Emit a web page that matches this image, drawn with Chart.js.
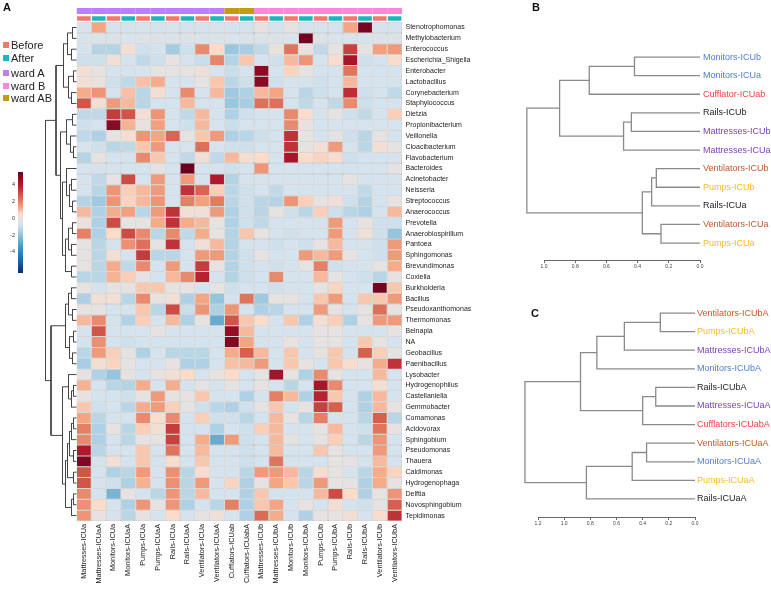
<!DOCTYPE html>
<html>
<head>
<meta charset="utf-8">
<script src="https://cdn.jsdelivr.net/npm/chart.js@4.4.1/dist/chart.umd.min.js"></script>
<style>
body { margin: 0; background: #fff; font-family: "Liberation Sans", Arial, sans-serif; }
#wrap { position: relative; width: 771px; height: 590px; overflow: hidden; background: #fff; }
canvas { position: absolute; }
.panel { position: absolute; font-weight: bold; font-size: 11px; color: #111; }
.sw { position: absolute; left: 3px; width: 6px; height: 6px; }
.lg { position: absolute; left: 11px; font-size: 11px; line-height: 12px; color: #222; }
</style>
</head>
<body>
<div id="wrap">
  <canvas id="heat" width="520" height="590" style="left:0;top:0"></canvas>
  <canvas id="rowTree" width="77" height="590" style="left:0;top:0"></canvas>
  <canvas id="scaleBar" width="24" height="125" style="left:0;top:160px"></canvas>
  <canvas id="treeB" width="251" height="280" style="left:520px;top:0"></canvas>
  <canvas id="treeC" width="251" height="310" style="left:520px;top:280px"></canvas>
  <div class="panel" style="left:3px;top:1px">A</div>
  <div class="panel" style="left:532px;top:1px">B</div>
  <div class="panel" style="left:531px;top:307px">C</div>
  <div id="legend"></div>
</div>
<script>
// colonne della heatmap
const columns = ['Mattresses-ICUa', 'Mattresses-ICUaA', 'Monitors-ICUa', 'Monitors-ICUaA', 'Pumps-ICUa', 'Pumps-ICUaA',
  'Rails-ICUa', 'Rails-ICUaA', 'Ventilators-ICUa', 'Ventilators-ICUaA', 'Cufflators-ICUab', 'Cufflators-ICUabA',
  'Mattresses-ICUb', 'Mattresses-ICUbA', 'Monitors-ICUb', 'Monitors-ICUbA', 'Pumps-ICUb', 'Pumps-ICUbA',
  'Rails-ICUb', 'Rails-ICUbA', 'Ventilators-ICUb', 'Ventilators-ICUbA'];
const period = ['Before', 'After', 'Before', 'After', 'Before', 'After', 'Before', 'After', 'Before', 'After', 'Before',
  'After', 'Before', 'After', 'Before', 'After', 'Before', 'After', 'Before', 'After', 'Before', 'After'];
const ward = ['A', 'A', 'A', 'A', 'A', 'A', 'A', 'A', 'A', 'A', 'AB', 'AB', 'B', 'B', 'B', 'B', 'B', 'B', 'B', 'B', 'B', 'B'];

const rowNames = ['Stenotrophomonas', 'Methylobacterium', 'Enterococcus', 'Escherichia_Shigella', 'Enterobacter',
  'Lactobacillus', 'Corynebacterium', 'Staphylococcus', 'Dietzia', 'Propionibacterium', 'Veillonella',
  'Cloacibacterium', 'Flavobacterium', 'Bacteroides', 'Acinetobacter', 'Neisseria', 'Streptococcus',
  'Anaerococcus', 'Prevotella', 'Anaerobiospirillum', 'Pantoea', 'Sphingomonas', 'Brevundimonas', 'Coxiella',
  'Burkholderia', 'Bacillus', 'Pseudoxanthomonas', 'Thermomonas', 'Belnapia', 'NA', 'Geobacillus',
  'Paenibacillus', 'Lysobacter', 'Hydrogenophilus', 'Castellaniella', 'Gemmobacter', 'Comamonas', 'Acidovorax',
  'Sphingobium', 'Pseudomonas', 'Thauera', 'Caldimonas', 'Hydrogenophaga', 'Delftia', 'Novosphingobium',
  'Tepidimonas'];

// valori (z-score), una riga per genere
const values = [
  [-0.6, 1.3, -0.7, -0.7, -0.6, -0.7, -0.6, -0.8, -0.7, -0.6, -0.8, -0.8, 0, -0.8, 0, -0.8, -0.7, -0.8, 1.3, 5.2, -0.8, -0.8],
  [-0.6, -0.5, -0.5, -0.6, -0.5, -0.5, -0.5, -0.5, -0.6, -0.5, -0.6, -0.5, -0.5, -0.5, -0.6, 5.3, -0.5, -0.6, -0.6, -0.6, -0.5, -0.5],
  [-0.8, -1.4, -1.4, 0.3, -0.9, -0.8, -1.7, -0.9, 1.8, 0.5, -1.9, -1.6, -1.2, 0.1, 2.2, 0, -1.2, 0, 3.2, 0, 1.4, 1.5],
  [-0.9, -0.9, 0.2, -0.8, -1.2, -0.9, 0, -0.8, -1.0, 1.9, -1.4, 0.8, -0.8, -0.9, 1.0, 1.6, -0.8, 0.4, 4.2, -0.9, -0.8, 0.4],
  [0.3, 0, -0.8, -0.8, -0.8, 0, 0, 0, 0.2, -0.8, -1.0, -0.8, 4.8, -0.8, 0.6, 0, -0.8, -0.8, 2.2, -0.8, -0.8, -0.8],
  [0.3, 0.1, -0.9, -1.2, 0.9, 1.2, -0.8, -0.8, 0, 0.8, -1.3, -0.9, 4.8, -0.9, -0.8, -0.8, -0.9, -0.8, 1.0, -0.8, -0.8, -0.8],
  [1.2, 1.6, -0.8, 0.9, -1.3, 0.3, -0.8, 1.8, -0.8, 1.0, -1.8, -1.5, 1.0, 1.3, -0.8, -1.3, -0.9, -0.8, 3.6, -0.9, -0.8, -1.2],
  [2.8, 0.3, 1.5, 1.0, -1.3, -0.8, -0.8, 1.0, -0.8, -0.8, -1.9, -1.6, 2.3, 2.3, -0.8, -1.2, -0.8, -1.2, 1.8, -0.9, -0.8, -0.8],
  [-1.2, -1.2, 3.3, 2.8, 0.3, 1.6, -0.8, -1.2, 1.0, -0.8, -1.5, -0.9, -0.8, -0.8, 1.8, 0.4, -0.8, 0, -0.9, -1.2, -0.8, 0.7],
  [-0.9, -0.8, 4.8, 1.1, 0, 1.4, -0.8, -0.9, 1.0, -0.8, -1.0, -0.8, -0.8, -0.8, 1.8, 0, -0.8, -0.8, -0.8, -0.8, -0.8, -0.8],
  [-1.2, -1.5, 0, 0.3, 1.6, 1.3, 2.5, 0, 0.8, 1.5, -1.5, -1.3, -0.9, -0.8, 3.5, 0, -0.8, 0, -0.9, -1.3, 0, -0.8],
  [-0.8, -0.9, -1.3, -1.2, 0.8, 1.5, -0.8, -0.8, 2.3, -0.8, -0.9, -0.9, -0.8, -0.8, 3.5, 0, 0.3, 1.5, -0.8, -1.3, 0.3, 0],
  [-1.4, 0, -0.8, -0.8, 1.8, 0.8, -0.8, -1.2, 0.2, -1.2, 1.0, 0.3, 0.5, -0.8, 4.2, 0.5, 0.6, 0.4, -0.9, -0.8, -0.8, -0.8],
  [-0.8, -0.8, -0.8, -0.8, -0.8, 0, -0.8, 5.5, -0.8, -0.8, -0.9, -0.8, 1.6, -0.8, -0.8, -0.8, -0.8, -0.8, -0.8, -0.8, -0.8, 0],
  [-0.8, -1.2, 0, 3.0, -0.8, 1.5, -0.8, 1.5, -0.8, 4.0, -1.4, -0.8, -0.8, -0.8, -0.8, -0.8, -0.8, -0.8, 0, -0.8, -0.8, -0.8],
  [-0.8, -1.3, 1.6, 0.7, 1.0, 1.5, -0.8, 3.5, 2.5, 0.7, -1.3, -0.9, -0.8, -1.2, -0.8, -0.8, -0.8, -0.8, -0.8, -1.2, -0.8, -0.8],
  [-1.4, -1.8, 1.6, 0.6, 1.0, 1.6, -0.8, 2.0, 1.4, 2.1, -1.3, -0.9, -1.3, -1.4, 1.6, 0.7, 0, 0.2, -0.9, -1.4, -0.8, 0],
  [1.0, -1.5, 1.2, 1.4, -1.3, 1.5, 3.5, 0.3, 0.2, 1.5, -1.5, -0.9, -1.3, 0, -0.9, -1.3, 0.7, -0.9, -1.3, -1.5, -0.8, 1.0],
  [0.1, -1.5, 3.0, 0, 0, 1.2, 3.5, 1.2, 1.0, 0, -1.5, -0.9, -1.2, -0.8, -0.8, -0.8, -0.8, 1.5, -0.8, 0, -0.9, -0.9],
  [2.0, -1.5, 0.5, 3.0, 1.8, -1.3, 1.8, -1.2, 1.2, 0, -1.4, 0.8, 0, -0.8, -0.9, -0.8, -0.8, 1.5, -0.8, 0.2, -0.9, -2.0],
  [0, -1.3, -0.8, 1.7, 2.3, 0, 3.5, -0.8, 0.2, 1.0, -1.4, -0.8, -0.8, -0.9, -0.8, -0.9, 0, 1.0, -0.8, -0.8, -0.9, 1.5],
  [0, -1.3, 0.3, -0.8, 3.3, -1.3, -1.3, -0.8, 1.5, 1.5, -1.4, -0.9, 0, -0.8, -0.8, 1.5, 1.0, 1.5, 0, -0.8, -0.9, 1.5],
  [0, -1.3, 1.2, -1.2, 1.8, -0.8, 1.5, -0.8, 3.3, 0, -1.4, -0.9, -0.8, -0.9, -0.8, 0, 2.0, -0.9, -0.8, -0.8, 0, 1.2],
  [-1.3, -1.3, 1.1, 0.7, 0, -0.8, 1.0, 1.8, 3.8, -0.8, -1.4, -0.9, -0.8, 1.8, -0.8, -0.8, 1.0, 0, -0.8, -0.9, -1.3, 0],
  [0, -0.8, 0, 0, 0.8, 0.8, 0, 0, -0.8, 0, -0.9, -0.8, -0.8, -0.9, -0.8, -0.8, 0, 0.6, -0.8, -0.8, 5.2, 0.8],
  [-1.5, 0.3, 0.3, -1.3, 1.8, 0, 0.3, -1.5, 1.3, -2.0, -0.8, 2.2, -1.8, 0, 0, -0.8, 0.8, 1.5, -0.8, 0.8, 0.8, 1.5],
  [0, 0, -0.8, -0.8, 0.8, -1.3, 3.0, -1.0, 1.6, -1.5, 1.6, -0.8, -1.5, -1.3, -0.8, -0.8, 1.5, 0, -0.8, 0, 2.3, 0],
  [1.0, 1.8, -0.8, -1.5, 0.7, -0.8, 1.0, -1.5, 0, -2.8, 2.8, 0.8, 0.4, -0.8, 0.8, -1.5, 0.3, 0.7, -1.5, 0, 1.5, 1.5],
  [-0.8, 2.8, -0.8, -0.8, -0.8, 0, -0.8, -0.8, -0.8, -0.8, 4.6, 1.0, -0.8, -0.8, -0.8, -0.8, 0, 0, -0.8, -0.8, -0.8, 0],
  [-0.8, 1.7, -0.8, -0.9, -0.8, -0.8, -0.8, -0.8, -0.8, -0.8, 5.0, 1.3, -0.8, -0.8, 0, -0.8, 0, 0, -0.8, 0.8, 0, -0.8],
  [-1.3, 1.5, 0.7, 0, -1.5, -0.8, -1.3, -1.3, -1.3, -0.8, 1.2, 2.6, 1.0, -0.8, 0.8, -0.8, 0, 0.8, -0.8, 2.6, 0.7, 0],
  [-1.6, 0.3, 0.6, 0, -0.8, -0.8, 0, -1.5, -1.5, -0.8, 0.9, 1.0, 1.5, -0.8, 0.8, 0, -0.8, 0.8, 0.4, 0, 1.2, 3.5],
  [0, -1.5, -2.0, 0, -0.8, 0, 0.3, 0.5, -0.8, 0, 0.5, -0.8, 0, 4.3, 0, -1.5, 1.8, 0, -0.8, -0.8, 1.0, -0.8],
  [1.1, -0.8, -1.3, -1.4, 1.2, -0.8, 1.2, -0.8, 0, -0.8, 0, -0.8, 0, -0.8, -1.3, -0.8, 4.2, 1.8, -0.8, -0.8, 0.3, -0.8],
  [0, -0.8, -0.8, -0.9, 0, 1.5, 0, 0, 0.8, -0.8, -0.8, -1.5, -0.8, 2.0, 1.0, -1.5, 3.8, 0.8, -0.8, -1.5, 1.0, -0.8],
  [0.8, -0.9, -0.8, -1.3, 1.2, 1.5, 0.7, 0, -0.9, -1.3, -1.5, -0.9, 0, 0.8, -0.8, 0, 3.2, 2.6, -0.8, -1.5, 1.0, 0],
  [1.3, -1.3, -0.8, -0.8, 1.8, 0.4, 1.8, -0.8, 0.7, -0.9, -0.9, -1.3, -0.8, 1.0, 0, -1.3, 2.0, -0.8, -0.8, -1.3, 2.6, -1.3],
  [2.0, -1.5, 0, -1.3, 0.7, 0.3, 3.3, -0.8, -0.8, -1.5, -0.8, -0.9, 0.7, 1.0, -0.8, -0.8, 0, 1.0, -0.8, -0.9, 2.2, 0],
  [1.8, -1.5, -0.8, -1.3, 0, 0, 3.2, -0.8, 1.2, -2.8, 1.5, -0.9, -0.8, 1.0, 0, -0.8, 0, 0.7, -0.8, -1.3, 1.6, -0.8],
  [4.0, -1.3, -0.8, -0.8, 0.8, -0.8, 2.2, -0.8, 1.0, -0.8, -0.8, -0.9, -0.8, 1.0, -0.8, -0.8, 0.8, 0, -0.8, -0.8, 1.5, -0.8],
  [5.0, -0.8, 0.3, -0.8, 0.8, -0.8, 0.4, -0.8, 0.8, -0.8, -0.8, -0.9, -0.8, 2.2, -0.8, -0.8, -0.8, 0, 0, -0.8, 1.0, -0.8],
  [2.8, -0.8, -1.5, -1.3, 1.5, -0.8, 1.7, -1.3, 0.4, -0.8, -0.8, -1.3, 1.5, 1.5, 1.0, -1.3, 0.4, 0, -0.8, -1.3, 1.2, 0.6],
  [2.8, -0.8, -0.9, -1.5, 1.1, -0.8, 1.7, -1.3, 1.5, -0.8, 0.6, -1.5, 0, 1.3, 0.8, -1.3, 1.5, 0, 0, -1.5, 1.2, 0],
  [1.8, -0.8, -2.5, 0, -0.8, -1.3, 1.6, -1.3, 1.0, -0.8, -0.8, -1.5, 0.8, -0.8, -0.8, -0.8, 1.0, 3.0, 0.5, -1.5, 0, 1.6],
  [1.7, 0.5, -0.8, -1.5, 1.6, 0, 1.6, -1.5, -0.8, -1.3, 2.0, -1.5, 0.8, 1.3, -0.8, 0, -0.8, 0.3, -0.8, -0.9, 0, 2.6],
  [1.6, 0, -0.8, -1.3, 0, -0.8, 0.5, -0.8, 0, 0.2, -0.8, -1.5, 2.4, 1.2, -0.8, -1.5, 0, 0, 0.3, -0.8, 0.4, 3.5]
];

// albero delle righe (formato hclust: negativo = foglia, positivo = nodo), altezza in px
const rowMerges = [
  [-1, -2, 4], [-3, -4, 5], [1, 2, 9], [-5, -6, 3], [-7, -8, 5], [4, 5, 8], [3, 6, 13],
  [-9, -10, 4], [-12, -13, 3], [-11, 9, 6], [8, 10, 10],
  [-15, -16, 5], [-17, -18, 4], [12, 13, 7], [-14, 14, 10],
  [-19, -20, 4], [-21, -22, 5], [16, 17, 8], [-23, -24, 5], [18, 19, 11],
  [15, 20, 14], [11, 21, 16], [7, 22, 20.5],
  [-25, -26, 5], [-27, -28, 4], [24, 25, 8], [-29, -30, 3], [-31, -32, 4], [27, 28, 7], [26, 29, 11],
  [-34, -35, 3], [31, -36, 5], [-33, 32, 8], [-37, -38, 3], [34, -39, 5], [-40, -41, 3], [35, 36, 7],
  [-42, -43, 3], [37, 38, 9], [-44, -45, 3], [40, -46, 5], [39, 41, 11], [33, 42, 14],
  [30, 43, 25.5], [23, 44, 31]
];

const colorbarTicks = [4, 2, 0, -2, -4];
const colorbarRange = [-6.5, 5.5];
const colorStops = [
  [-6.5, '#053061'], [-5, '#2166ac'], [-3.5, '#4393c3'], [-2, '#94c4de'], [-0.8, '#d4e3ee'], [0, '#e6e2e1'],
  [0.5, '#fcdbc9'], [1.3, '#f4a582'], [2.6, '#d6604d'], [4, '#b2182b'], [5.5, '#67001f']
];

// pannello B
const leavesB = ['Monitors-ICUb', 'Monitors-ICUa', 'Cufflator-ICUab', 'Rails-ICUb', 'Mattresses-ICUb',
  'Mattresses-ICUa', 'Ventilators-ICUb', 'Pumps-ICUb', 'Rails-ICUa', 'Ventilators-ICUa', 'Pumps-ICUa'];
const mergesB = [[-1, -2, 0.42], [1, -3, 0.71], [-4, -5, 0.44], [3, -6, 0.49], [2, 4, 0.90],
  [-7, -8, 0.28], [6, -9, 0.31], [-10, -11, 0.25], [7, 8, 0.37], [5, 9, 1.11]];

// pannello C
const leavesC = ['Ventilators-ICUbA', 'Pumps-ICUbA', 'Mattresses-ICUbA', 'Monitors-ICUbA', 'Rails-ICUbA',
  'Mattresses-ICUaA', 'Cufflators-ICUabA', 'Ventilators-ICUaA', 'Monitors-ICUaA', 'Pumps-ICUaA', 'Rails-ICUaA'];
const mergesC = [[-1, -2, 0.265], [1, -3, 0.54], [2, -4, 0.75], [-5, -6, 0.30], [4, -7, 0.40], [3, 5, 0.875],
  [-8, -9, 0.37], [7, -10, 0.48], [8, -11, 0.83], [6, 9, 1.30]];

const wardColors = { A: '#bb80f8', B: '#f888da', AB: '#c39b10' };
const periodColors = { Before: '#f4776e', After: '#1ab8bd' };
const siteColors = { Monitors: '#4d7dd2', Cufflator: '#ee3d3d', Cufflators: '#ee3d3d', Rails: '#222222',
  Mattresses: '#7b3fb8', Ventilators: '#c4582e', Pumps: '#f6bf22' };

Chart.defaults.font.family = '"Liberation Sans", Arial, sans-serif';
Chart.defaults.animation = false;

function hexToRgb(h) { return [1, 3, 5].map(i => parseInt(h.slice(i, i + 2), 16)); }

function colorFor(v) {
  if (v <= colorStops[0][0]) return colorStops[0][1];
  for (let i = 1; i < colorStops.length; i++) {
    if (v <= colorStops[i][0]) {
      const [v0, c0] = colorStops[i - 1], [v1, c1] = colorStops[i];
      const t = (v - v0) / (v1 - v0);
      const a = hexToRgb(c0), b = hexToRgb(c1);
      return 'rgb(' + a.map((x, k) => Math.round(x + (b[k] - x) * t)).join(',') + ')';
    }
  }
  return colorStops[colorStops.length - 1][1];
}

// segmenti a "U" per ogni fusione del dendrogramma
function dendroSegments(merges, leafPos) {
  const nodes = [];
  const get = i => i < 0 ? { h: 0, y: leafPos(-i) } : nodes[i - 1];
  return merges.map(([a, b, h]) => {
    const A = get(a), B = get(b);
    nodes.push({ h, y: (A.y + B.y) / 2 });
    return [{ x: A.h, y: A.y }, { x: h, y: A.y }, { x: h, y: B.y }, { x: B.h, y: B.y }];
  });
}

function lineSets(segs, color, width) {
  return segs.map(s => ({
    data: s, showLine: true, pointRadius: 0, borderColor: color, borderWidth: width, fill: false, clip: false
  }));
}

// --- heatmap come barre impilate ---
const annotSizes = [0.55, 0.15, 0.52, 0.08];
const topOffset = annotSizes.reduce((a, b) => a + b, 0);

const heatSets = [
  { data: columns.map(() => annotSizes[0]), backgroundColor: ward.map(w => wardColors[w]), borderWidth: 0 },
  { data: columns.map(() => annotSizes[1]), backgroundColor: 'rgba(0,0,0,0)', borderWidth: 0 },
  { data: columns.map(() => annotSizes[2]), backgroundColor: period.map(p => periodColors[p]), borderWidth: 0.6, borderColor: '#ffffff' },
  { data: columns.map(() => annotSizes[3]), backgroundColor: 'rgba(0,0,0,0)', borderWidth: 0 }
].concat(values.map(row => ({
  data: row.map(() => 1),
  backgroundColor: row.map(colorFor),
  borderColor: '#a3a3a3',
  borderWidth: 0.5
})));

new Chart(document.getElementById('heat'), {
  type: 'bar',
  data: { labels: columns, datasets: heatSets },
  options: {
    responsive: false,
    events: [],
    layout: { padding: { left: 76.5, top: 8, right: 0, bottom: 0 } },
    datasets: { bar: { barPercentage: 1, categoryPercentage: 1, borderSkipped: false, inflateAmount: 0 } },
    plugins: { legend: { display: false }, tooltip: { enabled: false } },
    scales: {
      x: {
        stacked: true,
        grid: { display: false, drawTicks: false },
        border: { display: false },
        afterFit: s => { s.height = 69; },
        ticks: { autoSkip: false, minRotation: 90, maxRotation: 90, padding: 3, color: '#222', font: { size: 7.3 } }
      },
      y: {
        stacked: true,
        reverse: true,
        position: 'right',
        min: 0,
        max: topOffset + rowNames.length,
        grid: { display: false, drawTicks: false },
        border: { display: false },
        afterFit: s => { s.width = 118; },
        afterBuildTicks: s => { s.ticks = rowNames.map((n, i) => ({ value: topOffset + i + 0.5 })); },
        ticks: { autoSkip: false, padding: 3.5, color: '#222', font: { size: 7 }, callback: (v, i) => rowNames[i] }
      }
    }
  }
});

// --- dendrogramma delle righe ---
new Chart(document.getElementById('rowTree'), {
  type: 'scatter',
  data: { datasets: lineSets(dendroSegments(rowMerges, i => i - 0.5), '#454545', 1) },
  options: {
    responsive: false,
    events: [],
    layout: { padding: { left: 0, top: 22.1, right: 0.5, bottom: 69 } },
    plugins: { legend: { display: false }, tooltip: { enabled: false } },
    scales: {
      x: { display: false, reverse: true, min: 0, max: 76.5 },
      y: { display: false, reverse: true, min: 0, max: rowNames.length }
    }
  }
});

// --- barra dei colori ---
new Chart(document.getElementById('scaleBar'), {
  type: 'bar',
  data: {
    labels: ['z'],
    datasets: [{
      data: [colorbarRange],
      borderWidth: 0,
      backgroundColor: ctx => {
        const ch = ctx.chart;
        if (!ch.chartArea) return '#cccccc';
        const ys = ch.scales.y;
        const [lo, hi] = colorbarRange;
        const g = ch.ctx.createLinearGradient(0, ys.getPixelForValue(lo), 0, ys.getPixelForValue(hi));
        colorStops.forEach(([v, c]) => g.addColorStop((v - lo) / (hi - lo), c));
        return g;
      }
    }]
  },
  options: {
    responsive: false,
    events: [],
    layout: { padding: { left: 0, top: 12, right: 1, bottom: 12 } },
    datasets: { bar: { barPercentage: 1, categoryPercentage: 1 } },
    plugins: { legend: { display: false }, tooltip: { enabled: false } },
    scales: {
      x: { display: false },
      y: {
        min: colorbarRange[0],
        max: colorbarRange[1],
        grid: { display: false, drawTicks: false },
        border: { display: false },
        afterFit: s => { s.width = 18; },
        afterBuildTicks: s => { s.ticks = colorbarTicks.map(v => ({ value: v })); },
        ticks: { padding: 3, color: '#333', font: { size: 5.5 } }
      }
    }
  }
});

// --- dendrogrammi B e C ---
function siteColor(name) { return siteColors[name.split('-')[0]] || '#222'; }

function treeChart(id, leaves, merges, cfg) {
  return new Chart(document.getElementById(id), {
    type: 'scatter',
    data: { datasets: lineSets(dendroSegments(merges, i => i - 1), '#8a8a8a', 1.3) },
    options: {
      responsive: false,
      events: [],
      layout: { padding: { left: cfg.left, top: cfg.top, right: 0, bottom: 0 } },
      plugins: { legend: { display: false }, tooltip: { enabled: false } },
      scales: {
        x: {
          reverse: true,
          min: 0,
          max: cfg.max,
          grid: { display: true, drawOnChartArea: false, tickLength: 3, color: '#666' },
          border: { display: true, color: '#666' },
          afterFit: s => { s.height = cfg.axisH; },
          ticks: { stepSize: 0.2, padding: 1, color: '#444', font: { size: 5 }, callback: v => Number(v).toFixed(1) }
        },
        y: {
          reverse: true,
          position: 'right',
          min: -0.9,
          max: cfg.ymax,
          grid: { display: false, drawTicks: false },
          border: { display: false },
          afterFit: s => { s.width = cfg.labelW; },
          afterBuildTicks: s => { s.ticks = leaves.map((n, i) => ({ value: i })); },
          ticks: {
            autoSkip: false, padding: cfg.pad, font: { size: 9 },
            color: ctx => siteColor(leaves[ctx.index] || ''),
            callback: (v, i) => leaves[i]
          }
        }
      }
    }
  });
}

treeChart('treeB', leavesB, mergesB, { left: 24, top: 40.3, max: 1.0, axisH: 20, ymax: 10.91, labelW: 71, pad: 3 });
treeChart('treeC', leavesC, mergesC, { left: 18, top: 16.3, max: 1.2, axisH: 73, ymax: 10.97, labelW: 76, pad: 2 });

// --- legenda ---
const legendItems = [
  { label: 'Before', color: periodColors.Before, y: 45 },
  { label: 'After', color: periodColors.After, y: 58 },
  { label: 'ward A', color: wardColors.A, y: 73 },
  { label: 'ward B', color: wardColors.B, y: 86 },
  { label: 'ward AB', color: wardColors.AB, y: 98 }
];
const legend = document.getElementById('legend');
legendItems.forEach(it => {
  const sq = document.createElement('div');
  sq.className = 'sw';
  sq.style.top = (it.y - 3) + 'px';
  sq.style.background = it.color;
  legend.appendChild(sq);
  const tx = document.createElement('div');
  tx.className = 'lg';
  tx.style.top = (it.y - 6.5) + 'px';
  tx.textContent = it.label;
  legend.appendChild(tx);
});
</script>
</body>
</html>
